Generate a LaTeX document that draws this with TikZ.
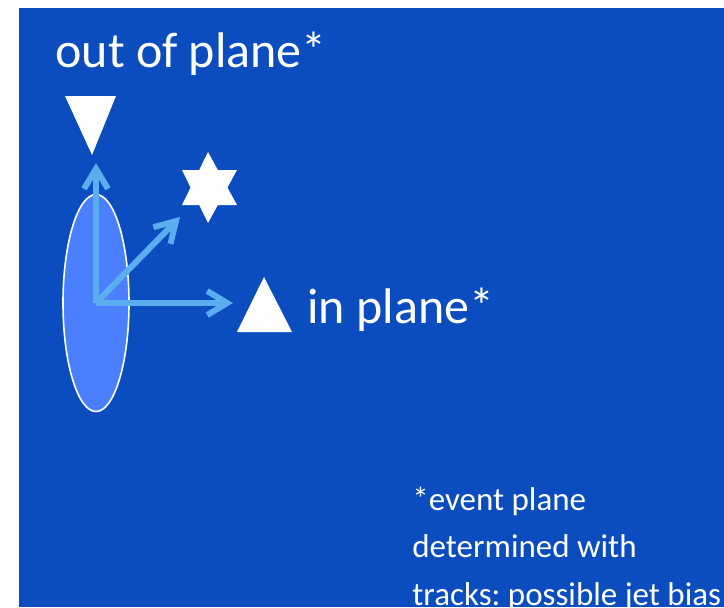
\documentclass[tikz,border=0pt]{standalone}
\usepackage{fontspec}
\setmainfont{Carlito}
\usetikzlibrary{arrows.meta,shapes.geometric}
\definecolor{slidebg}{HTML}{0B4CBE}
\definecolor{discfill}{HTML}{4A80FF}
\definecolor{vecblue}{HTML}{5AAEF0}
\frenchspacing

\begin{document}
\begin{tikzpicture}[x=0.5pt,y=-0.5pt,
  vec/.style={-{Straight Barb[length=10pt,width=12pt]},line width=3pt,vecblue},
  lbl/.style={text=white,inner sep=0pt,anchor=base west},
  disc/.style={ellipse,draw=white,line width=0.8pt,fill=discfill,minimum width=33pt,minimum height=108.5pt,inner sep=0pt}]
\useasboundingbox (0,0) rectangle (724,607);
\fill[white] (0,0) rectangle (724,607);
\fill[slidebg] (19,8) rectangle (724,607);
% labels
\node[lbl,font=\fontsize{25}{30}\selectfont] (tout) at (55,67) {out of plane*};
\node[lbl,font=\fontsize{25}{30}\selectfont] (tin) at (307,323) {in plane*};
\node[lbl,font=\fontsize{16.5}{23.75}\selectfont,align=left] (note) at (412,605) {*event plane\\determined with\\tracks: possible jet bias};
% markers
\fill[white] (65,96) -- (116,96) -- (92,155) -- cycle;
\fill[white] (264,277) -- (292,332) -- (237,332) -- cycle;
\fill[white] (208,152) -- (237,205) -- (182,205) -- cycle;
\fill[white] (208,223) -- (182,170) -- (237,170) -- cycle;
% plane and vectors
\node[disc] (disc) at (96,303) {};
\coordinate (pout) at (96,163);
\coordinate (pmid) at (180,217);
\coordinate (pin) at (233,303);
\draw[vec] (disc.center) -- (pout);
\draw[vec] (disc.center) -- (pmid);
\draw[vec] (disc.center) -- (pin);
\end{tikzpicture}
\end{document}
